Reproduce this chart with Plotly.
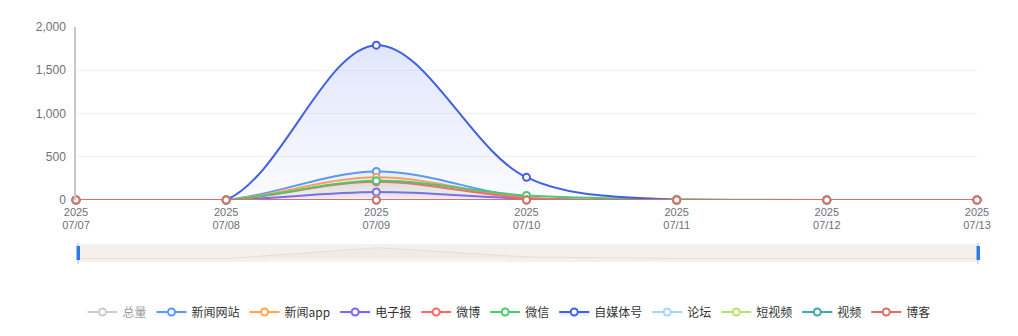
import plotly.graph_objects as go

# ---- data ----
dates = ["2025/07/07", "2025/07/08", "2025/07/09", "2025/07/10", "2025/07/11", "2025/07/12", "2025/07/13"]
year_labels = ["2025", "2025", "2025", "2025", "2025", "2025", "2025"]
day_labels = ["07/07", "07/08", "07/09", "07/10", "07/11", "07/12", "07/13"]
y_ticks = [0, 500, 1000, 1500, 2000]

total = [0, 0, 2730, 390, 15, 0, 0]          # 总量 (hidden)
news_site = [0, 0, 330, 30, 0, 0, 0]          # 新闻网站
news_app = [0, 0, 262, 25, 0, 0, 0]           # 新闻app
e_paper = [0, 0, 92, 15, 0, 0, 0]             # 电子报
weibo = [0, 0, 210, 20, 0, 0, 0]              # 微博
wechat = [0, 0, 222, 52, 10, 0, 0]            # 微信
we_media = [0, 0, 1790, 262, 0, 0, 0]         # 自媒体号
forum = [0, 0, 0, 0, 0, 0, 0]                 # 论坛
short_video = [0, 0, 0, 0, 0, 0, 0]           # 短视频
video = [0, 0, 0, 0, 0, 0, 0]                 # 视频
blog = [0, 0, 0, 0, 0, 0, 0]                  # 博客

series = [
    ("新闻网站", news_site, (91, 155, 245)),
    ("新闻app", news_app, (255, 165, 80)),
    ("电子报", e_paper, (124, 104, 245)),
    ("微博", weibo, (255, 104, 104)),
    ("微信", wechat, (80, 200, 108)),
    ("自媒体号", we_media, (64, 97, 230)),
    ("论坛", forum, (168, 212, 255)),
    ("短视频", short_video, (184, 228, 108)),
    ("视频", video, (68, 166, 168)),
    ("博客", blog, (216, 112, 108)),
]

FONT = "Liberation Sans, Noto Sans CJK SC, sans-serif"
W, H = 1018, 336

def rgba(c, a):
    return f"rgba({c[0]},{c[1]},{c[2]},{a})"

fig = go.Figure()

# hidden total series (legend only)
fig.add_trace(go.Scatter(
    x=dates, y=total, name="总量", mode="lines+markers",
    line=dict(color="#9a9a9a", width=2, shape="spline", smoothing=1),
    marker=dict(symbol="circle", size=7, color="white", line=dict(color="#9a9a9a", width=2)),
    visible="legendonly", cliponaxis=False,
))

for name, vals, c in series:
    top_a = 0.16 if name == "自媒体号" else 0.10
    # last series sits on the overlaid category axis that carries the year labels
    xa = "x3" if name == "博客" else "x"
    fig.add_trace(go.Scatter(
        x=dates, y=vals, name=name, mode="lines+markers", xaxis=xa, yaxis="y",
        line=dict(color=rgba(c, 1), width=2, shape="spline", smoothing=1),
        marker=dict(symbol="circle", size=7, color="white", line=dict(color=rgba(c, 1), width=2)),
        fill="tozeroy",
        fillgradient=dict(type="vertical", start=0, stop=max(max(vals), 1),
                          colorscale=[[0, rgba(c, 0.02)], [1, rgba(c, top_a)]]),
        cliponaxis=False,
    ))

# data-zoom shadow (slider)
fig.add_trace(go.Scatter(
    x=dates, y=total, xaxis="x2", yaxis="y2", mode="lines",
    line=dict(color="rgba(0,0,0,0.07)", width=1),
    fill="tozeroy", fillcolor="rgba(0,0,0,0.02)",
    showlegend=False, hoverinfo="skip",
))

x_dom = [76 / W, 977 / W]
fig.update_layout(
    width=W, height=H,
    margin=dict(l=0, r=0, t=0, b=0),
    template="none",
    paper_bgcolor="white", plot_bgcolor="rgba(0,0,0,0)",
    font=dict(family=FONT, size=12, color="#6E7079"),
    showlegend=True,
    legend=dict(
        orientation="h", x=0.5, xanchor="center", y=(H - 312) / H, yanchor="middle",
        font=dict(family="Noto Sans CJK SC, sans-serif", size=12, color="#333333"),
        itemwidth=30, tracegroupgap=0,
    ),
    xaxis=dict(
        domain=x_dom, type="category", range=[0, len(dates) - 1],
        tickvals=dates, ticktext=day_labels, tickfont=dict(size=11, color="#6E7079"),
        ticklabelstandoff=17,
        showgrid=False, showline=False, zeroline=False, ticks="", automargin=False,
        fixedrange=True,
    ),
    xaxis3=dict(
        domain=x_dom, overlaying="x", anchor="y", side="bottom", type="category",
        range=[0, len(dates) - 1], tickvals=dates, ticktext=year_labels,
        tickfont=dict(size=11, color="#6E7079"), ticklabelstandoff=4,
        showgrid=False, showline=False, zeroline=False, ticks="", automargin=False,
        fixedrange=True,
    ),
    yaxis=dict(
        domain=[(H - 200) / H, (H - 27) / H], range=[0, 2000],
        tickvals=y_ticks, tickformat=",", tickfont=dict(size=12, color="#6E7079"),
        showgrid=True, gridcolor="#F0F0F0", gridwidth=1,
        showline=True, linecolor="#C8C8C8", linewidth=1.5,
        zeroline=False, ticks="", ticklabelstandoff=6, automargin=False,
        fixedrange=True,
    ),
    xaxis2=dict(
        domain=[78 / W, 978 / W], type="category", range=[0, len(dates) - 1],
        anchor="y2", visible=False, fixedrange=True,
    ),
    yaxis2=dict(
        domain=[(H - 262) / H, (H - 244) / H], range=[-880, 3650],
        anchor="x2", visible=False, fixedrange=True,
    ),
    shapes=[
        dict(type="rect", xref="x2 domain", yref="y2 domain", x0=0, x1=1, y0=0, y1=1,
             fillcolor="#F5F0EB", line=dict(width=0), layer="below"),
        # handles
        dict(type="line", xref="paper", yref="paper", x0=78 / W, x1=78 / W,
             y0=(H - 264) / H, y1=(H - 243) / H, line=dict(color="#9DBFF0", width=1)),
        dict(type="rect", xref="paper", yref="paper", x0=76.5 / W, x1=80 / W,
             y0=(H - 260) / H, y1=(H - 246) / H, fillcolor="#2F7BE5", line=dict(width=0)),
        dict(type="line", xref="paper", yref="paper", x0=978 / W, x1=978 / W,
             y0=(H - 264) / H, y1=(H - 243) / H, line=dict(color="#9DBFF0", width=1)),
        dict(type="rect", xref="paper", yref="paper", x0=976.5 / W, x1=980 / W,
             y0=(H - 260) / H, y1=(H - 246) / H, fillcolor="#2F7BE5", line=dict(width=0)),
    ],
)

fig.write_html("out.html")
